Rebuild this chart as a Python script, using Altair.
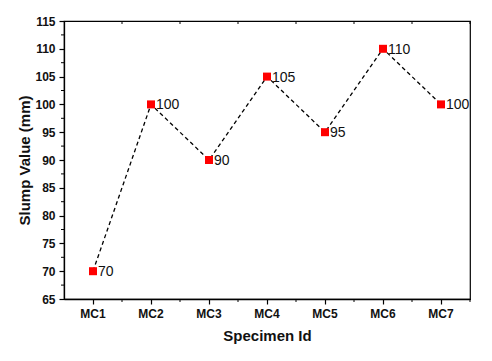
import altair as alt
import pandas as pd

specimens = ["MC1", "MC2", "MC3", "MC4", "MC5", "MC6", "MC7"]
slump = [70, 100, 90, 105, 95, 110, 100]
y_major = [65, 70, 75, 80, 85, 90, 95, 100, 105, 110, 115]
y_minor = [67.5, 72.5, 77.5, 82.5, 87.5, 92.5, 97.5, 102.5, 107.5, 112.5]

df = pd.DataFrame({"Specimen": specimens, "Slump": slump})
minor_df = pd.DataFrame({"v": y_minor})
cat_df = pd.DataFrame({"Specimen": specimens})

FONT = "Liberation Sans"

xscale = alt.Scale(domain=specimens, paddingInner=0, paddingOuter=0)
yscale = alt.Scale(domain=[65, 115], nice=False, zero=False)

xaxis = alt.Axis(title="Specimen Id", labelFontWeight="bold", labelFontSize=12,
                 titleFontSize=15, titleFontWeight="bold", labelAngle=0,
                 tickSize=5, labelPadding=4, titlePadding=9, domainColor="black",
                 domainWidth=1.3, tickWidth=1.2,
                 tickColor="black", labelColor="#111", titleColor="#111",
                 labelFont=FONT, titleFont=FONT)
yaxis = alt.Axis(title="Slump Value (mm)", values=y_major, labelFontWeight="bold",
                 labelFontSize=12, titleFontSize=15, titleFontWeight="bold",
                 tickSize=5, labelPadding=4, titlePadding=2, domainColor="black",
                 domainWidth=1.3, tickWidth=1.2, labelOverlap=False,
                 tickColor="black", labelColor="#111", titleColor="#111",
                 labelFont=FONT, titleFont=FONT, grid=False)

x = alt.X("Specimen:N", scale=xscale, axis=xaxis, sort=specimens)
y = alt.Y("Slump:Q", scale=yscale, axis=yaxis)

line = alt.Chart(df).mark_line(color="black", strokeDash=[4, 3], strokeWidth=1.3).encode(x=x, y=y)
pts = alt.Chart(df).mark_square(color="#ff0000", size=64, opacity=1).encode(x=x, y=y)
labels = alt.Chart(df).mark_text(align="left", baseline="middle", dx=5, dy=1, fontSize=14,
                                 font=FONT, color="#111").encode(x=x, y=y, text="Slump:Q")

minor_y = alt.Chart(minor_df).mark_rule(color="black", strokeWidth=1).encode(
    y=alt.Y("v:Q", scale=yscale, axis=yaxis),
    x=alt.value(-3), x2=alt.value(0))

minor_x_bottom = alt.Chart(cat_df).mark_rule(color="black", strokeWidth=1, xOffset=29).encode(
    x=alt.X("Specimen:N", scale=xscale, sort=specimens, axis=xaxis),
    y=alt.value(278), y2=alt.value(281))

minor_x_top = alt.Chart(cat_df).mark_rule(color="black", strokeWidth=1, xOffset=29).encode(
    x=alt.X("Specimen:N", scale=xscale, sort=specimens, axis=xaxis),
    y=alt.value(0), y2=alt.value(3))

chart = alt.layer(line, pts, labels, minor_y, minor_x_bottom, minor_x_top).properties(
    width=406, height=278,
    autosize=alt.AutoSizeParams(type="none"),
    padding={"left": 56, "top": 13, "right": 14, "bottom": 54},
).configure(background="white").configure_view(
    stroke="black", strokeWidth=1.2
).configure_axis(labelOverlap=False)

chart.save("out.html", embed_options={"renderer": "svg", "actions": False})
